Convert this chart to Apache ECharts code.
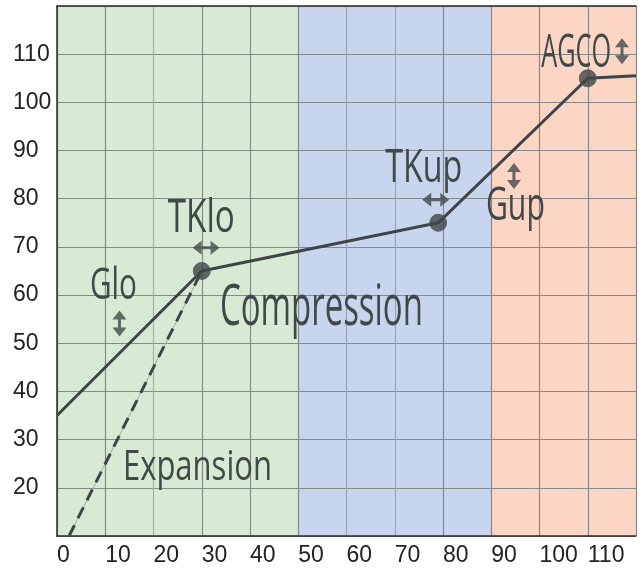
<!DOCTYPE html>
<html>
<head>
<meta charset="utf-8">
<script src="https://cdn.jsdelivr.net/npm/echarts@6/dist/echarts.min.js"></script>
<style>
  html, body { margin: 0; padding: 0; background: #fff; }
  #chart { width: 642px; height: 570px; }
</style>
</head>
<body>
<div id="chart"></div>
<script>
// ranges (x)
const bandStart = [0, 50, 90];
const bandEnd = [50, 90, 120];
const bandColor = ['#d6ead4', '#c8d5ef', '#fdd5c4'];

// curve
const curveX = [0, 30, 79, 110, 120];
const curveY = [35, 65, 75, 105, 105.5];
// knee points
const kneeX = [30, 79, 110];
const kneeY = [65, 75, 105];
// expansion line
const expX = [2.5, 30];
const expY = [10, 65];

// labels
const noteText = ['Glo', 'TKlo', 'Compression', 'Expansion', 'TKup', 'Gup', 'AGCO'];
const noteX = [11.7, 29.9, 54.8, 29.1, 76, 95, 107.6];
const noteY = [61.8, 75.8, 57.2, 24.2, 86.1, 78.2, 110];
// label styles (font size, drawn width in px)
const noteSize = [43, 45, 56, 42, 45, 45, 46];
const noteWidth = [47, 67, 203, 149, 77, 59, 70];

// arrows
const hArrowX = [30.9, 78.5];
const hArrowY = [69.8, 79.8];
const vArrowX = [12.95, 94.7, 117.1];
const vArrowY = [54.1, 84.7, 110.6];

const lineColor = '#3f4547';
const textColor = '#414948';
const gridColor = '#858a86';

const measureCtx = document.createElement('canvas').getContext('2d');
function fitScale(text, font, width) {
  measureCtx.font = font;
  return width / measureCtx.measureText(text).width;
}

const chart = echarts.init(document.getElementById('chart'));

chart.setOption({
  animation: false,
  grid: { left: 57, right: 6, top: 6, bottom: 34 },
  xAxis: [
    {
      type: 'value',
      min: 0,
      max: 120,
      interval: 10,
      z: 1,
      axisLine: { show: true, onZero: false, lineStyle: { color: '#2b2b2b', width: 1.5 } },
      axisTick: { show: false },
      axisLabel: {
        align: 'left',
        margin: 8,
        fontSize: 23,
        color: '#222',
        fontFamily: 'Liberation Sans',
        formatter: v => (v >= 120 ? '' : String(v))
      },
      splitLine: {
        show: true,
        lineStyle: {
          width: 1.2,
          color: [gridColor, gridColor, '#a9b0a9', gridColor, gridColor, gridColor,
                  '#9ea6b6', '#9ea6b6', gridColor, gridColor, gridColor, gridColor, gridColor]
        }
      }
    },
    {
      type: 'value',
      position: 'top',
      min: 0,
      max: 120,
      z: 1,
      axisLine: { show: true, lineStyle: { color: '#2b2b2b', width: 1.5 } },
      axisTick: { show: false },
      axisLabel: { show: false },
      splitLine: { show: false }
    }
  ],
  yAxis: {
    type: 'value',
    min: 10,
    max: 120,
    interval: 10,
    z: 1,
    axisLine: { show: true, onZero: false, lineStyle: { color: '#2b2b2b', width: 1.5 } },
    axisTick: { show: false },
    axisLabel: {
      align: 'left',
      margin: 44,
      fontSize: 23,
      color: '#222',
      fontFamily: 'Liberation Sans',
      verticalAlign: 'middle',
      padding: [0, 0, 11, 0],
      formatter: v => (v <= 10 || v >= 120 ? '' : String(v))
    },
    splitLine: { show: true, lineStyle: { width: 1.2, color: gridColor } }
  },
  series: [
    {
      type: 'custom',
      z: 0,
      silent: true,
      data: bandStart.map((s, i) => [s, bandEnd[i]]),
      renderItem: (params, api) => {
        const i = params.dataIndex;
        const a = api.coord([api.value(0), 120]);
        const b = api.coord([api.value(1), 10]);
        return {
          type: 'rect',
          shape: { x: a[0], y: a[1], width: b[0] - a[0], height: b[1] - a[1] },
          style: { fill: bandColor[i] }
        };
      }
    },
    {
      type: 'line',
      z: 2,
      silent: true,
      symbol: 'none',
      lineStyle: { color: '#a3aba3', width: 1 },
      data: expX.map((x, i) => [x, expY[i]])
    },
    {
      type: 'line',
      z: 2,
      silent: true,
      symbol: 'none',
      lineStyle: { color: '#3f4547', width: 3, type: [12, 8] },
      data: expX.map((x, i) => [x, expY[i]])
    },
    {
      type: 'line',
      z: 3,
      silent: true,
      symbol: 'none',
      lineStyle: { color: lineColor, width: 3 },
      data: curveX.map((x, i) => [x, curveY[i]])
    },
    {
      type: 'scatter',
      z: 4,
      silent: true,
      symbolSize: 17,
      itemStyle: { color: lineColor, borderColor: '#50575a', borderWidth: 1 },
      data: kneeX.map((x, i) => [x, kneeY[i]])
    },
    {
      type: 'scatter',
      z: 4,
      silent: true,
      symbol: 'path://M0,7L9,0L9,5.5L18,5.5L18,0L27,7L18,14L18,8.5L9,8.5L9,14Z',
      symbolSize: [27, 14],
      itemStyle: { color: textColor },
      data: hArrowX.map((x, i) => [x, hArrowY[i]])
    },
    {
      type: 'scatter',
      z: 4,
      silent: true,
      symbol: 'path://M7,0L14,9L8.5,9L8.5,17L14,17L7,26L0,17L5.5,17L5.5,9L0,9Z',
      symbolSize: [14, 26],
      itemStyle: { color: textColor },
      data: vArrowX.map((x, i) => [x, vArrowY[i]])
    },
    {
      type: 'custom',
      z: 5,
      silent: true,
      data: noteX.map((x, i) => [x, noteY[i]]),
      renderItem: (params, api) => {
        const i = params.dataIndex;
        const pt = api.coord([api.value(0), api.value(1)]);
        const font = noteSize[i] + 'px "Open Sans"';
        return {
          type: 'text',
          x: pt[0],
          y: pt[1],
          scaleX: fitScale(noteText[i], font, noteWidth[i]),
          style: {
            text: noteText[i],
            font: font,
            fill: textColor,
            align: 'center',
            verticalAlign: 'middle'
          }
        };
      }
    }
  ]
});
</script>
</body>
</html>
